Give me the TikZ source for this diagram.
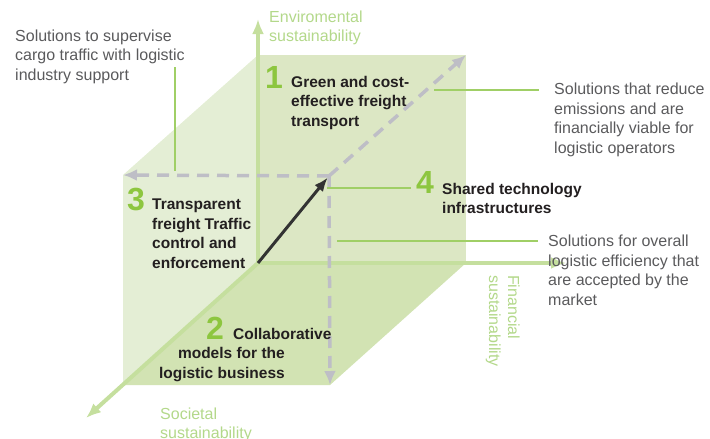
\documentclass[tikz,border=0pt]{standalone}
\usepackage{fontspec}
\setmainfont{Liberation Sans}
\usepackage{xcolor}
\usepackage{tikz}
\usetikzlibrary{arrows.meta,positioning,calc}

\definecolor{faceleft}{HTML}{E4EED5}
\definecolor{faceback}{HTML}{DCE7C4}
\definecolor{facebottom}{HTML}{D2E3B3}
\definecolor{axisgreen}{HTML}{C5DF9E}
\definecolor{labelgreen}{HTML}{B3D88A}
\definecolor{digitgreen}{HTML}{8DC63F}
\definecolor{leadergreen}{HTML}{A0CF66}
\definecolor{dashgray}{HTML}{BEBEC6}
\definecolor{arrowdark}{HTML}{333333}
\definecolor{notegray}{HTML}{5A5A5C}
\definecolor{topicdark}{HTML}{231F20}

\begin{document}
\begin{tikzpicture}[x=1pt,y=-1pt,
  axis/.style={line width=4pt,draw=axisgreen,-{Latex[length=15pt,width=12pt]}},
  guide/.style={line width=3.5pt,draw=dashgray,dash pattern=on 12pt off 8pt,-{Latex[length=14pt,width=12pt]}},
  leader/.style={line width=1.3pt,draw=leadergreen},
  note/.style={inner sep=0pt,anchor=north west,align=left,text=notegray,font=\fontsize{16}{19.5}\selectfont},
  topic/.style={inner sep=0pt,align=left,text=topicdark,font=\bfseries\fontsize{15.5}{19.5}\selectfont},
  digit/.style={inner sep=0pt,anchor=base,text=digitgreen,font=\bfseries\fontsize{32}{32}\selectfont},
  axislabel/.style={inner sep=0pt,anchor=north west,align=left,text=labelgreen,font=\fontsize{16}{19}\selectfont}]

  \useasboundingbox (0,0) rectangle (710,439);

  % cube corners
  \coordinate (O) at (258,263);
  \coordinate (BTL) at (258,55);
  \coordinate (BTR) at (466,55);
  \coordinate (BBR) at (466,263);
  \coordinate (FTL) at (123,175);
  \coordinate (FTR) at (329,176);
  \coordinate (FBL) at (123,385);
  \coordinate (FBR) at (330,385);

  % faces
  \fill[faceback] (BTL) -- (BTR) -- (BBR) -- (O) -- cycle;
  \fill[faceleft] (BTL) -- (FTL) -- (FBL) -- (O) -- cycle;
  \fill[facebottom] (O) -- (BBR) -- (FBR) -- (FBL) -- cycle;

  % axes
  \coordinate (envEnd) at (258,19);
  \coordinate (finEnd) at (566,263);
  \coordinate (socEnd) at (86,418);
  \draw[axis] (O) -- (envEnd);
  \draw[axis] (O) -- (finEnd);
  \draw[axis] (O) -- (socEnd);

  % dashed guides from the front top corner
  \draw[guide] (FTR) -- (FTL);
  \draw[guide] (FTR) -- (FBR);
  \draw[guide] (FTR) -- (BTR);

  % main arrow
  \draw[line width=3pt,draw=arrowdark,-{Latex[length=14pt,width=11pt]},shorten >=2pt] (O) -- (FTR);

  % texts
  \node[note] (supervise) at (15,29.5) {Solutions to supervise\\cargo traffic with logistic\\industry support};
  \node[note] (reduce) at (554,83) {Solutions that reduce\\emissions and are\\financially viable for\\logistic operators};
  \node[note] (overall) at (548,235) {Solutions for overall\\logistic efficiency that\\are accepted by the\\market};

  \node[axislabel] (env) at (269,11) {Enviromental\\sustainability};
  \node[axislabel] (soc) at (160,407.5) {Societal\\sustainability};
  \node[axislabel,rotate=-90] (fin) at (520,275) {Financial\\sustainability};

  \node[digit] (n1) at (274,88) {1};
  \node[digit] (n3) at (136,210.5) {3};
  \node[digit] (n4) at (425,193.5) {4};
  \node[digit] (n2) at (215,339.5) {2};

  \node[topic,anchor=north west] (green) at (291,76) {Green and cost-\\effective freight\\transport};
  \node[topic,anchor=north west] (traffic) at (152,199) {Transparent\\freight Traffic\\control and\\enforcement};
  \node[topic,anchor=north west] (shared) at (442,183) {Shared technology\\infrastructures};
  \node[topic,anchor=north west] (collab) at (233,328.5) {Collaborative};
  \node[topic,anchor=north east,align=right] (business) at (285,347.5) {models for the\\logistic business};

  % leaders
  \coordinate (lead1a) at (175,67);
  \coordinate (lead1b) at (175,171);
  \coordinate (lead2) at (434,90);
  \coordinate (lead3) at (327,188);
  \coordinate (lead4) at (337,241);
  \draw[leader] (lead1a) -- (lead1b);
  \draw[leader,shorten >=15pt] (lead2) -- (lead2 -| reduce.west);
  \draw[leader,shorten >=5pt] (lead3) -- (lead3 -| n4.west);
  \draw[leader,shorten >=10pt] (lead4) -- (lead4 -| overall.west);
\end{tikzpicture}
\end{document}
